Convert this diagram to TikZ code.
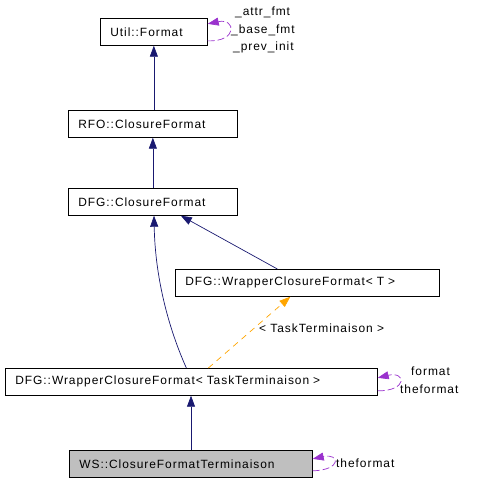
\documentclass[tikz,border=0pt]{standalone}
\usepackage{fontspec}
\setmainfont{Liberation Sans}[LetterSpace=8]
\usepackage{tikz}
\usetikzlibrary{arrows.meta, positioning}
\usepackage{xcolor}
\definecolor{inhblue}{RGB}{25,25,112}
\definecolor{usepurple}{RGB}{154,50,205}
\definecolor{tmplorange}{RGB}{255,165,0}
\definecolor{basegray}{RGB}{191,191,191}

\tikzset{
    cls/.style={draw, line width=0.7bp, rectangle, anchor=north west, align=left, inner xsep=10bp, inner ysep=0bp, minimum height=27bp, font=\fontsize{12}{14}\selectfont},
    focus/.style={cls, fill=basegray},
    inherit/.style={draw=inhblue, line width=0.7bp, -{Triangle[length=11bp, width=8bp]}},
    templ/.style={draw=tmplorange, line width=0.7bp, dash pattern=on 6bp off 5bp, -{Triangle[length=11bp, width=8bp, fill=tmplorange]}},
    usage/.style={draw=usepurple, line width=0.7bp, dash pattern=on 7bp off 3bp, -{Triangle[length=11bp, width=8bp, fill=usepurple]}},
    lbl/.style={font=\fontsize{12}{14}\selectfont, inner sep=0bp}
}

\begin{document}
\begin{tikzpicture}[x=1bp, y=-1bp]
    \useasboundingbox (0,0) rectangle (477,483);

    % Classes
    \node[cls, text width=87bp] (util) at (100,18) {Util::Format};
    \node[cls, text width=149bp] (rfo) at (68,110) {RFO::ClosureFormat};
    \node[cls, text width=149bp] (dfgcf) at (68,188) {DFG::ClosureFormat};
    \node[cls, text width=244bp] (wrapt) at (175,269) {DFG::WrapperClosureFormat< T >};
    \node[cls, text width=352bp] (wraptask) at (5,368) {DFG::WrapperClosureFormat< TaskTerminaison >};
    \node[focus, text width=223bp] (wsterm) at (69,450) {WS::ClosureFormatTerminaison};

    % Inheritance
    \draw[inherit] (rfo.north -| util.south) -- (util.south);
    \draw[inherit] (dfgcf.north) -- (rfo.south);
    \draw[inherit] ([xshift=-30bp]wrapt.north) -- ([xshift=28bp]dfgcf.south);
    \draw[inherit] ([xshift=-5bp]wraptask.north) .. controls (165,320) and (155,270) .. (dfgcf.south -| 154,0);
    \draw[inherit] (wsterm.north -| 191,0) -- (wraptask.south -| 191,0);

    % Template instance
    \draw[templ] ([xshift=17bp]wraptask.north) -- ([xshift=-17bp]wrapt.south);
    \node[lbl, anchor=west] (tplbl) at (259,328) {< TaskTerminaison >};

    % Usage loops
    \draw[usage] ([yshift=-9bp]util.east) .. controls (238,42) and (236,18) .. ([yshift=8bp]util.east);
    \node[lbl, anchor=west] (attrfmt) at (235,12) {\_attr\_fmt};
    \node[lbl, anchor=west] (basefmt) at (231,30) {\_base\_fmt};
    \node[lbl, anchor=west] (previnit) at (233,47) {\_prev\_init};

    \draw[usage] ([yshift=-9bp]wraptask.east) .. controls (408,391) and (406,371) .. ([yshift=4bp]wraptask.east);
    \node[lbl, anchor=west] (fmtlbl) at (411,371) {format};
    \node[lbl, anchor=west] (thefmtlbl) at (400,389) {theformat};

    \draw[usage] ([yshift=-7bp]wsterm.east) .. controls (342,470) and (340,453) .. ([yshift=5bp]wsterm.east);
    \node[lbl, anchor=west] (wsfmtlbl) at (336,463) {theformat};
\end{tikzpicture}
\end{document}
